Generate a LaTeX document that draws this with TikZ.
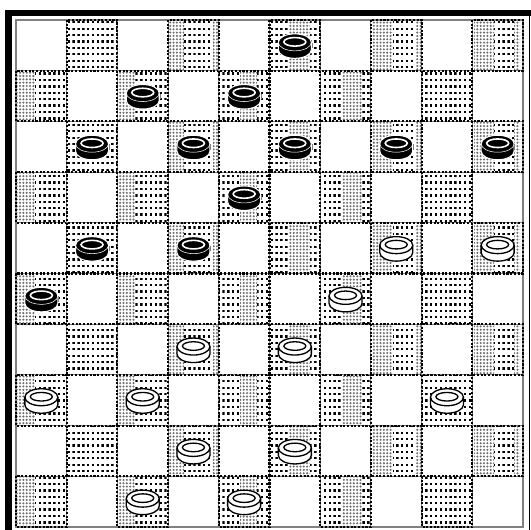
\documentclass[tikz,border=0pt]{standalone}
\usetikzlibrary{patterns}
% dotted fill of the dark squares, and the grey grain bands
\pgfdeclarepatternformonly{squaredots}{\pgfpointorigin}{\pgfqpoint{1.4pt}{1.3pt}}{\pgfqpoint{2.75pt}{3.65pt}}{%
  \pgfpathrectangle{\pgfpointorigin}{\pgfqpoint{1.4pt}{1.3pt}}\pgfusepath{fill}}
\pgfdeclarepatternformonly{bandgrain}{\pgfqpoint{-0.7pt}{-0.7pt}}{\pgfqpoint{0.7pt}{0.7pt}}{\pgfqpoint{1.9pt}{1.9pt}}{%
  \pgfpathcircle{\pgfpointorigin}{0.65pt}\pgfusepath{fill}}
\tikzset{
    darksq/.style={pattern=squaredots, pattern color=black},
    grain/.style={pattern=bandgrain, pattern color=gray!85!black},
    sqline/.style={draw=gray, line width=0.6pt},
    sqdash/.style={draw=black, line width=1.2pt, dash pattern=on 1.2pt off 0.9pt},
    manedge/.style={line width=0.75pt},
    blackman/.pic={
        \filldraw[fill=black, draw=white, line width=0.6pt] (-16.5,3) -- (-16.5,-4.5)
            arc[start angle=180, end angle=360, x radius=16.5, y radius=8.5] -- (16.5,3)
            arc[start angle=0, end angle=180, x radius=16.5, y radius=8.5] -- cycle;
        \draw[white, line width=0.3pt] (-16.5,3) arc[start angle=180, end angle=360, x radius=16.5, y radius=8.5];
        \draw[white, line width=0.9pt] (0,3.5) ellipse[x radius=11, y radius=4.3];
        \draw[gray, line width=0.6pt] (17.3,2.5) -- (17.3,-3);
    },
    whiteman/.pic={
        \filldraw[fill=white, draw=black, manedge] (-16.5,3) -- (-16.5,-4.5)
            arc[start angle=180, end angle=360, x radius=16.5, y radius=8.5] -- (16.5,3)
            arc[start angle=0, end angle=180, x radius=16.5, y radius=8.5] -- cycle;
        \draw[manedge] (-16.5,3) arc[start angle=180, end angle=360, x radius=16.5, y radius=8.5];
        \draw[manedge] (0,3.5) ellipse[x radius=11, y radius=4.3];
    },
}
\def\sq{50.7}

\begin{document}
\begin{tikzpicture}[x=0.02cm, y=0.02cm]
    \useasboundingbox (0,0) rectangle (531,530);
    % squares
    \foreach \r in {0,...,9}
        \foreach \c in {0,...,9}
            \coordinate (s\r\c) at ({16+\sq*(\c+0.5)},{510-\sq*(\r+0.5)});
    \foreach \r [evaluate=\r as \p using {int(mod(\r+1,2))}] in {0,...,9}
        \foreach \k in {0,...,4}
            \fill[darksq] ({16+\sq*(2*\k+\p)},{510-\sq*\r}) rectangle ++(\sq,-\sq);
    % grey bands on the dark squares
    \begin{scope}
        \clip \foreach \r [evaluate=\r as \p using {int(mod(\r+1,2))}] in {0,...,9} {
            \foreach \k in {0,...,4} { ({16+\sq*(2*\k+\p)},{510-\sq*\r}) rectangle ++(\sq,-\sq) } };
        \foreach \a/\b in {16/35, 118/135, 169/184, 213/218, 240/257, 289/310, 342/362, 372/393, 416/421, 474/494, 514/520} {
            \fill[white] (\a,0) rectangle (\b,530);
            \fill[grain] (\a,0) rectangle (\b,530);
        }
    \end{scope}
    \draw[sqline] (16,510) rectangle (523,3);
    \foreach \r [evaluate=\r as \p using {int(mod(\r+1,2))}] in {0,...,9}
        \foreach \k in {0,...,4} {
            \draw[sqline] ({16+\sq*(2*\k+\p)},{510-\sq*\r}) rectangle ++(\sq,-\sq);
            \draw[sqdash] ({16+\sq*(2*\k+\p)},{510-\sq*\r}) rectangle ++(\sq,-\sq);
        }
    % men
    \foreach \p in {05,12,14,21,23,25,27,29,34,41,43,50}
        \pic at (s\p) {blackman};
    \foreach \p in {47,49,56,63,65,70,72,78,83,85,92,94}
        \pic at (s\p) {whiteman};
    % frame
    \fill (5,0) rectangle (12,520);
    \fill (5,514) rectangle (531,520);
    \draw[line width=0.9pt] (529.7,520) -- (529.7,0);
\end{tikzpicture}
\end{document}
